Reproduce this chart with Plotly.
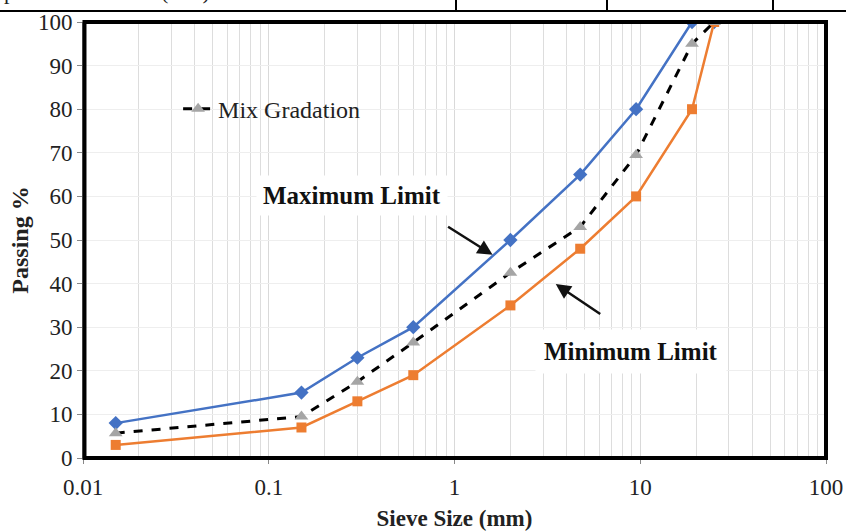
import plotly.graph_objects as go

sieve = [0.015, 0.15, 0.3, 0.6, 2.0, 4.75, 9.5, 19.0, 25.0]
max_limit = [8, 15, 23, 30, 50, 65, 80, 100, 100]
min_limit = [3, 7, 13, 19, 35, 48, 60, 80, 100]
mix = [5.7, 9.5, 17.5, 26.5, 42.5, 53, 69.5, 95, 100]

xtick_vals = [0.01, 0.1, 1, 10, 100]
xtick_text = ["0.01", "0.1", "1", "10", "100"]
ytick_vals = list(range(0, 101, 10))

minor_vals = [m * 10 ** e for e in range(-2, 2) for m in range(2, 10)]

FONT = "Liberation Serif"

fig = go.Figure()
fig.add_trace(go.Scatter(x=sieve, y=max_limit, mode="lines+markers", name="Maximum Limit",
                         line=dict(color="#4472C4", width=2.5),
                         marker=dict(symbol="diamond", size=11, color="#4472C4"),
                         showlegend=False))
fig.add_trace(go.Scatter(x=sieve, y=min_limit, mode="lines+markers", name="Minimum Limit",
                         line=dict(color="#ED7D31", width=2.5),
                         marker=dict(symbol="square", size=10, color="#ED7D31"),
                         showlegend=False))
fig.add_trace(go.Scatter(x=sieve, y=mix, mode="lines+markers", name="Mix Gradation",
                         line=dict(color="black", width=3, dash="dash"),
                         marker=dict(symbol="triangle-up", size=12, color="#A5A5A5")))

fig.update_layout(
    width=846, height=531,
    margin=dict(l=83, r=20, t=22, b=73, autoexpand=False),
    paper_bgcolor="white", plot_bgcolor="white",
    font=dict(family=FONT, size=23, color="#222"),
    legend=dict(x=0.128, y=0.80, xanchor="left", yanchor="middle",
                bgcolor="rgba(0,0,0,0)", font=dict(family=FONT, size=24, color="#222")),
    xaxis=dict(type="log", range=[-2, 2], tickmode="array", tickvals=xtick_vals, ticktext=xtick_text,
               automargin=False,
               showgrid=True, gridcolor="#D9D9D9", gridwidth=1,
               ticks="outside", ticklen=5, tickcolor="#888", ticklabelstandoff=3,
               tickfont=dict(family=FONT, size=23, color="#222"),
               showline=True, linecolor="#888", linewidth=1, zeroline=False,
               minor=dict(tickmode="array", tickvals=minor_vals, showgrid=True,
                          gridcolor="#DDDDDD", gridwidth=1, ticks=""),
               title=dict(text="<b>Sieve Size (mm)</b>", font=dict(family=FONT, size=23, color="#222"),
                          standoff=12)),
    yaxis=dict(range=[0, 100], tickmode="array", tickvals=ytick_vals,
               automargin=False,
               showgrid=True, gridcolor="#EEEEEE", gridwidth=1,
               ticks="outside", ticklen=5, tickcolor="#888",
               tickfont=dict(family=FONT, size=23, color="#222"),
               showline=True, linecolor="#888", linewidth=1, zeroline=False,
               title=dict(text="<b>Passing %</b>", font=dict(family=FONT, size=24, color="#222"),
                          standoff=2)),
)

# plot frame
fig.add_shape(type="rect", xref="paper", yref="paper", x0=0.002, x1=1, y0=0, y1=1,
              line=dict(color="black", width=4), layer="above")

# table lines at top (cropped document)
fig.add_shape(type="line", xref="paper", yref="paper", x0=-0.12, x1=1.03, y0=1.025, y1=1.025,
              line=dict(color="black", width=2))
for px in [456, 607, 773]:
    xp = (px - 83) / 743
    fig.add_shape(type="line", xref="paper", yref="paper", x0=xp, x1=xp, y0=1.025, y1=1.06,
                  line=dict(color="black", width=2))
fig.add_annotation(xref="paper", yref="paper", x=(2 - 83) / 743, y=1.036, xanchor="left", yanchor="bottom",
                   text="p", showarrow=False, font=dict(family=FONT, size=22, color="#222"))
fig.add_annotation(xref="paper", yref="paper", x=(185 - 83) / 743, y=1.036, xanchor="center", yanchor="bottom",
                   text="(mm)", showarrow=False, font=dict(family=FONT, size=22, color="#222"))

# labels
fig.add_annotation(x=-0.55, y=60.1, text="<b>Maximum Limit</b>", showarrow=False,
                   font=dict(family=FONT, size=25, color="#111"), bgcolor="white", borderpad=6)
fig.add_annotation(x=0.949, y=24.5, text="<b>Minimum Limit</b>", showarrow=False,
                   font=dict(family=FONT, size=25, color="#111"), bgcolor="white", borderpad=8)
# arrows
fig.add_annotation(x=0.205, y=46.6, ax=-46, ay=-29, axref="pixel", ayref="pixel", text="",
                   showarrow=True, arrowhead=2, arrowsize=1.2, arrowwidth=2.5, arrowcolor="#111")
fig.add_annotation(x=0.545, y=39.9, ax=46, ay=31, axref="pixel", ayref="pixel", text="",
                   showarrow=True, arrowhead=2, arrowsize=1.2, arrowwidth=2.5, arrowcolor="#111")

fig.write_html("out.html")
